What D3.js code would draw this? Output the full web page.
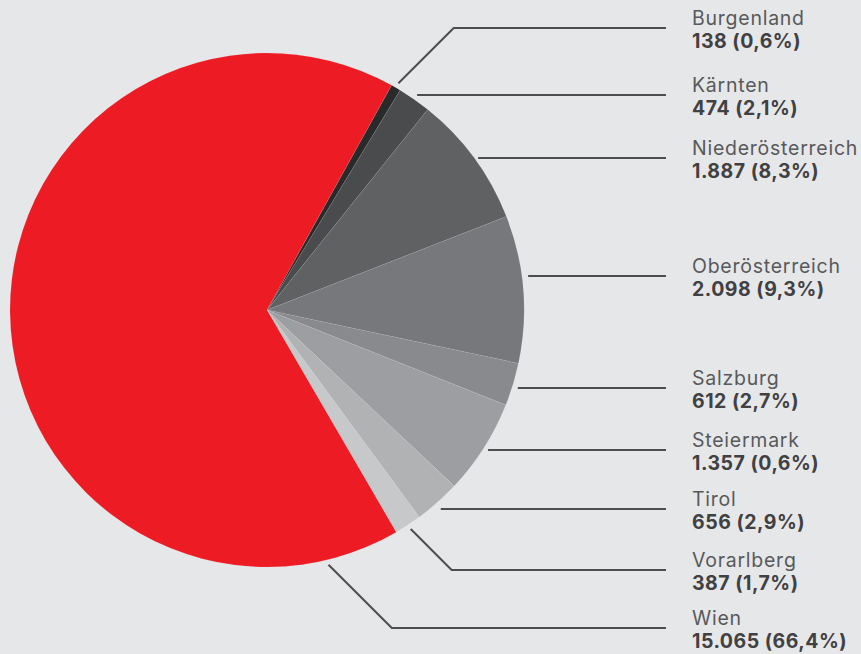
<!DOCTYPE html>
<html>
<head>
<meta charset="utf-8">
<script src="https://cdn.jsdelivr.net/npm/d3@7"></script>
<style>
  body { margin: 0; background: #e6e7e8; }
  svg { display: block; }
  .name { font-family: Inter, 'Noto Sans', sans-serif; font-size: 19.5px; letter-spacing: 0.75px; fill: #58595b; }
  .value { font-family: Inter, 'Noto Sans', sans-serif; font-size: 19.5px; letter-spacing: 0.5px; font-weight: 700; fill: #414042; }
</style>
</head>
<body>
<div id="app"></div>
<script>
'use strict'

// Bundesländer and counts as printed on the chart
const regions = ['Burgenland', 'Kärnten', 'Niederösterreich', 'Oberösterreich', 'Salzburg', 'Steiermark', 'Tirol', 'Vorarlberg', 'Wien']
const counts  = [138, 474, 1887, 2098, 612, 1357, 656, 387, 15065]
const valueLabels = ['138 (0,6%)', '474 (2,1%)', '1.887 (8,3%)', '2.098 (9,3%)', '612 (2,7%)', '1.357 (0,6%)', '656 (2,9%)', '387 (1,7%)', '15.065 (66,4%)']

const colours = ['#2b2a2b', '#4a4b4d', '#606163', '#77787b', '#898a8d', '#9d9ea1', '#b1b2b4', '#c7c8ca', '#ed1c24']

// label rows on the right (line y of each leader)
const labelY = [28, 95, 158, 276, 388, 450, 509, 570, 628]

const main = () => {
	const width = 861
	const height = 654
	const cx = 267, cy = 310, radius = 257
	const lineEnd = 666
	const textX = 692

	const data = regions.map((r, i) => ({ name: r, count: counts[i], label: valueLabels[i], colour: colours[i], ly: labelY[i] }))

	const svg = d3.select('#app')
		.append('svg')
		.attr('width', width)
		.attr('height', height)

	const startAngle = 29 * Math.PI / 180

	const pie = d3.pie()
		.value(d => d.count)
		.sort(null)
		.startAngle(startAngle)
		.endAngle(startAngle + 2 * Math.PI)

	const arc = d3.arc().innerRadius(0).outerRadius(radius)

	const arcs = pie(data)

	const g = svg.append('g').attr('transform', `translate(${cx}, ${cy})`)

	g.selectAll('.slice')
		.data(arcs)
		.enter().append('path')
		.attr('class', 'slice')
		.attr('d', arc)
		.style('fill', d => d.data.colour)
		.style('stroke', 'rgba(255,255,255,0.15)')
		.style('stroke-width', 0.5)

	// leader lines: from just outside the slice to the label row
	const anchorAngle = d => d.data.name === 'Wien' ? d.startAngle + 0.29 : (d.startAngle + d.endAngle) / 2
	const leader = d => {
		const a = anchorAngle(d)
		const r = radius + 5
		const x0 = cx + r * Math.sin(a)
		const y0 = cy - r * Math.cos(a)
		const dy = Math.abs(d.data.ly - y0)
		if (dy < 14) return [[x0, d.data.ly], [lineEnd, d.data.ly]]
		return [[x0, y0], [x0 + dy, d.data.ly], [lineEnd, d.data.ly]]
	}

	svg.selectAll('.leader')
		.data(arcs)
		.enter().append('path')
		.attr('class', 'leader')
		.attr('d', d => d3.line()(leader(d)))
		.style('fill', 'none')
		.style('stroke', '#4d4d4f')
		.style('stroke-width', 2)

	const labels = svg.selectAll('.lab')
		.data(arcs)
		.enter().append('g')
		.attr('class', 'lab')

	labels.append('text')
		.attr('class', 'name')
		.attr('x', textX)
		.attr('y', d => d.data.ly - 3)
		.text(d => d.data.name)

	labels.append('text')
		.attr('class', 'value')
		.attr('x', textX)
		.attr('y', d => d.data.ly + 20)
		.text(d => d.data.label)
}

main()
</script>
</body>
</html>
